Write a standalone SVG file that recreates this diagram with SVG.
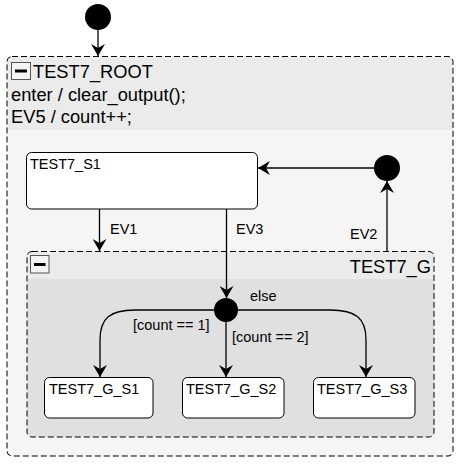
<svg xmlns="http://www.w3.org/2000/svg" width="462" height="464" viewBox="0 0 462 464">
<defs>
<style>
text{font-family:"Liberation Sans",Arial,sans-serif;fill:#000}
.t14{font-size:14.5px}
.t18{font-size:18.3px}
.state{fill:#fff;stroke:#000;stroke-width:1}
.comp{stroke:#000;stroke-width:1;stroke-dasharray:6,3}
.edge{fill:none;stroke:#000;stroke-width:1.3}
.minus{fill:#f4f4f4;stroke:#555;stroke-width:1}
</style>
<marker id="arr" viewBox="0 0 12 14" refX="12" refY="7" markerWidth="12" markerHeight="14" orient="auto" markerUnits="userSpaceOnUse">
<path d="M0,0 L12,7 L0,14 L4,7 Z" fill="#000"/>
</marker>
</defs>
<g id="init_top"><circle cx="98" cy="17" r="13" fill="#000"/></g>
<g id="TEST7_ROOT">
<rect x="7" y="56.5" width="446" height="399.5" rx="5" fill="#f5f5f5"/>
<path d="M7,130 V61.5 a5,5 0 0 1 5,-5 H448 a5,5 0 0 1 5,5 V130 Z" fill="#ebebeb"/>
<rect x="7" y="56.5" width="446" height="399.5" rx="5" fill="none" class="comp"/>
<rect x="11.5" y="62.5" width="19" height="17" class="minus"/>
<line x1="15" y1="71" x2="27" y2="71" stroke="#000" stroke-width="3"/>
<text x="33" y="78" class="t18">TEST7_ROOT</text>
<text x="11" y="101" class="t18">enter / clear_output();</text>
<text x="11" y="123" class="t18">EV5 / count++;</text>
</g>
<g id="TEST7_S1">
<rect x="26.5" y="152.5" width="231" height="56.5" rx="5" class="state"/>
<text x="30" y="169" class="t14">TEST7_S1</text>
</g>
<g id="hist"><circle cx="387" cy="168" r="13" fill="#000"/></g>
<g id="TEST7_G">
<rect x="27" y="251.5" width="407" height="185.5" rx="5" fill="#e0e0e0"/>
<path d="M27,279 V256.5 a5,5 0 0 1 5,-5 H429 a5,5 0 0 1 5,5 V279 Z" fill="#ebebeb"/>
<rect x="27" y="251.5" width="407" height="185.5" rx="5" fill="none" class="comp"/>
<rect x="30.5" y="255.5" width="18.5" height="17.5" class="minus"/>
<line x1="34" y1="264.5" x2="45.5" y2="264.5" stroke="#000" stroke-width="3"/>
<text x="431" y="273" class="t18" text-anchor="end">TEST7_G</text>
</g>
<g id="junction"><circle cx="226" cy="310" r="12" fill="#000"/></g>
<g id="TEST7_G_S1">
<rect x="44.5" y="377.5" width="108.5" height="40.5" rx="5" class="state"/>
<text x="49" y="394" class="t14">TEST7_G_S1</text>
</g>
<g id="TEST7_G_S2">
<rect x="182.5" y="377.5" width="101.5" height="40.5" rx="5" class="state"/>
<text x="186" y="394" class="t14">TEST7_G_S2</text>
</g>
<g id="TEST7_G_S3">
<rect x="313.5" y="377.5" width="101.5" height="40.5" rx="5" class="state"/>
<text x="317" y="394" class="t14">TEST7_G_S3</text>
</g>
<g id="connectors">
<path class="edge" d="M98,30 V56" marker-end="url(#arr)"/>
<path class="edge" d="M99.5,209 V251" marker-end="url(#arr)"/>
<text x="110" y="234" class="t14">EV1</text>
<path class="edge" d="M226.5,209 V298" marker-end="url(#arr)"/>
<text x="236" y="234" class="t14">EV3</text>
<path class="edge" d="M387,251.5 V181" marker-end="url(#arr)"/>
<text x="350" y="239" class="t14">EV2</text>
<path class="edge" d="M374,168 H258" marker-end="url(#arr)"/>
<path class="edge" d="M214,310 H135 C110,310 100,318 100,340 V377" marker-end="url(#arr)"/>
<text x="133" y="330" class="t14">[count == 1]</text>
<path class="edge" d="M226,322 V377" marker-end="url(#arr)"/>
<text x="232" y="342" class="t14">[count == 2]</text>
<path class="edge" d="M238,310 H330 C356,310 366,318 366,340 V377" marker-end="url(#arr)"/>
<text x="250" y="301" class="t14">else</text>
</g>
</svg>
